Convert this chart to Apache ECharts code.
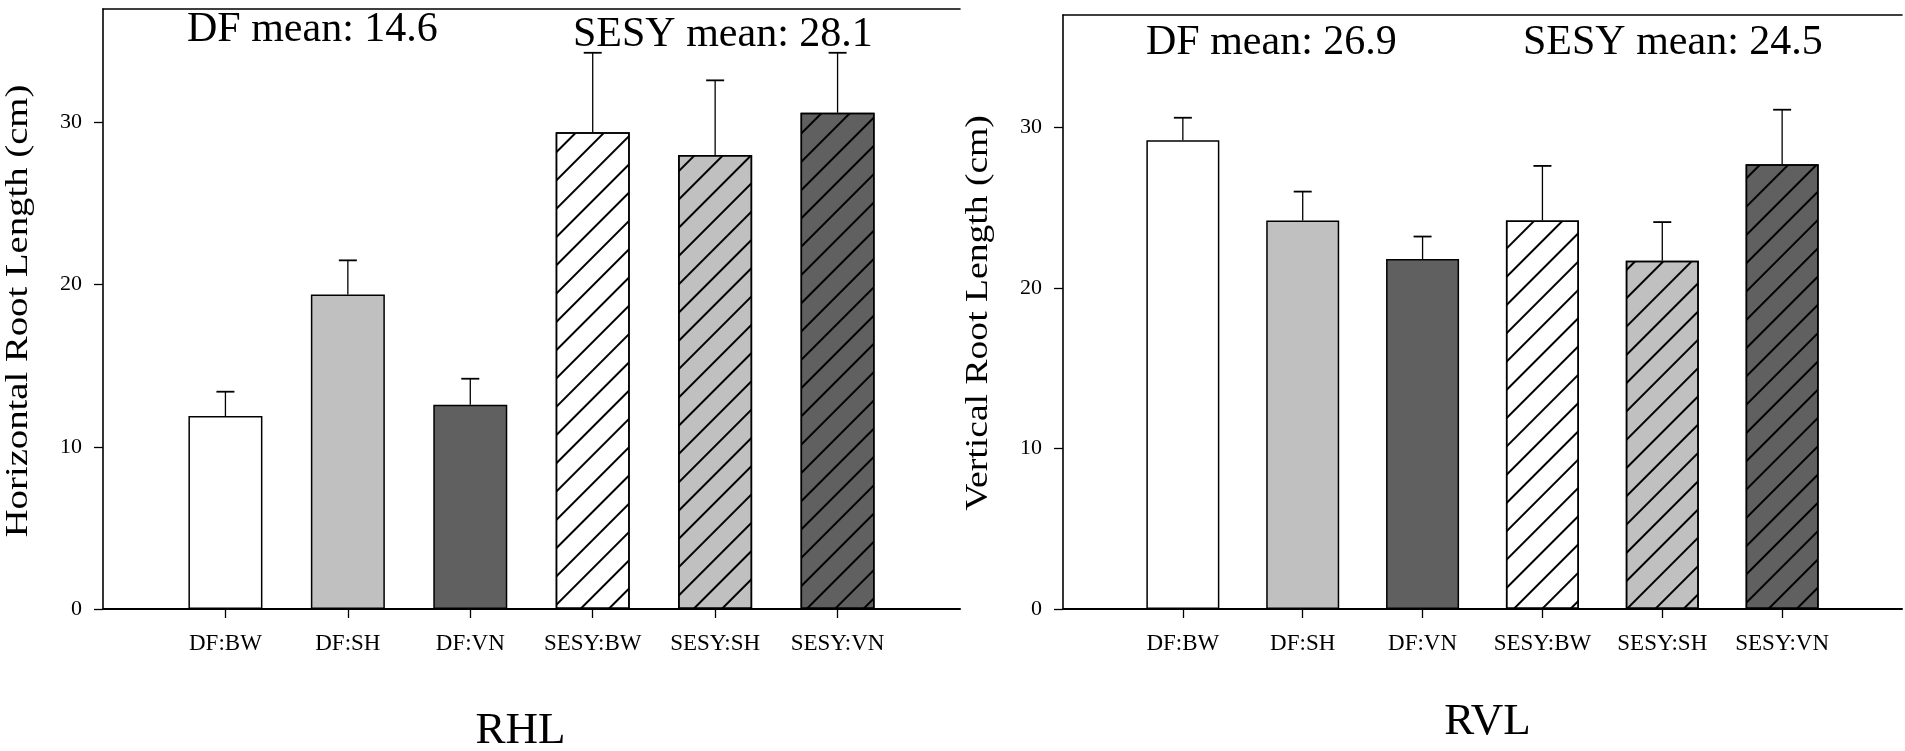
<!DOCTYPE html>
<html><head><meta charset="utf-8">
<script src="https://cdn.jsdelivr.net/npm/echarts@6/dist/echarts.min.js"></script>
<style>html,body{margin:0;padding:0;background:#fff}#c{width:1905px;height:751px}</style>
</head><body><div id="c"></div>
<script>
// ---- data ----
const categories = ['DF:BW', 'DF:SH', 'DF:VN', 'SESY:BW', 'SESY:SH', 'SESY:VN'];
const rhlMeans = [11.9, 19.4, 12.6, 29.4, 28.0, 30.6];
const rhlErr   = [1.5, 2.1, 1.6, 4.9, 4.6, 3.7];
const rvlMeans = [29.2, 24.2, 21.8, 24.2, 21.7, 27.7];
const rvlErr   = [1.4, 1.8, 1.4, 3.4, 2.4, 3.4];
const yTicks = [0, 10, 20, 30];
const rhlAnnot = ['DF mean: 14.6', 'SESY mean: 28.1'];
const rvlAnnot = ['DF mean: 26.9', 'SESY mean: 24.5'];
const rhlYTitle = 'Horizontal Root Length (cm)';
const rvlYTitle = 'Vertical Root Length (cm)';
const panelTitles = ['RHL', 'RVL'];

// ---- styles ----
const FONT = '"Liberation Serif","Times New Roman",serif';
const fills = ['#ffffff', '#c0c0c0', '#606060', '#ffffff', '#c0c0c0', '#606060'];
const hatched = [false, false, false, true, true, true];
const hatch = {
  symbol: 'rect', symbolSize: 1, color: '#000', backgroundColor: null,
  dashArrayX: [1, 0], dashArrayY: [1.3, 17.6], rotation: -Math.PI / 4
};
const padded = [''].concat(categories, ['']);

function barData(vals) {
  const items = vals.map((v, i) => {
    const st = { color: fills[i], borderColor: '#000', borderWidth: 1.5 };
    if (hatched[i]) st.decal = hatch;
    return { value: v, itemStyle: st };
  });
  return ['-'].concat(items, ['-']);
}
function errData(vals, errs) {
  return vals.map((v, i) => [i + 1, v, errs[i]]);
}
function renderErr(params, api) {
  const x = api.value(0), m = api.value(1), e = api.value(2);
  const p0 = api.coord([x, m]), p1 = api.coord([x, m + e]);
  const hw = 9;
  return { type: 'group', children: [
    { type: 'line', shape: { x1: p0[0], y1: p0[1], x2: p1[0], y2: p1[1] }, style: { stroke: '#000', lineWidth: 1.3 } },
    { type: 'line', shape: { x1: p1[0] - hw, y1: p1[1], x2: p1[0] + hw, y2: p1[1] }, style: { stroke: '#000', lineWidth: 1.8 } }
  ] };
}
function xBottom(g) {
  return {
    type: 'category', gridIndex: g, data: padded, boundaryGap: false, position: 'bottom',
    axisLine: { show: true, lineStyle: { color: '#000', width: 2 } },
    axisTick: { show: true, length: 9, interval: (i) => i > 0 && i < padded.length - 1, lineStyle: { color: '#000', width: 1.3 } },
    axisLabel: { interval: 0, margin: 23, color: '#000', fontSize: 23, fontFamily: FONT },
    splitLine: { show: false }
  };
}
function xTop(g) {
  return {
    type: 'category', gridIndex: g, data: padded, boundaryGap: false, position: 'top',
    axisLine: { show: true, lineStyle: { color: '#000', width: 1.6 } },
    axisTick: { show: false }, axisLabel: { show: false }, splitLine: { show: false }
  };
}
function yAx(g) {
  return {
    type: 'value', gridIndex: g, min: 0, max: 37, interval: 10,
    axisLine: { show: true, lineStyle: { color: '#000', width: 1.6 } },
    axisTick: { show: true, length: 9, customValues: yTicks, lineStyle: { color: '#000', width: 1.3 } },
    axisLabel: { customValues: yTicks, margin: 21, color: '#000', fontSize: 22, fontFamily: FONT },
    splitLine: { show: false }
  };
}
function txt(text, x, y, size, align, extra) {
  return Object.assign({
    type: 'text', x: x, y: y, silent: true,
    style: { text: text, fontSize: size, fontFamily: FONT, fill: '#000', align: align, verticalAlign: 'middle' }
  }, extra || {});
}

const chart = echarts.init(document.getElementById('c'), null, { renderer: 'canvas' });
chart.setOption({
  backgroundColor: '#fff',
  animation: false,
  grid: [
    { left: 103, top: 9, width: 857, height: 600 },
    { left: 1063, top: 15, width: 850, height: 594 }
  ],
  xAxis: [xBottom(0), xTop(0), xBottom(1), xTop(1)],
  yAxis: [yAx(0), yAx(1)],
  series: [
    { type: 'bar', xAxisIndex: 0, yAxisIndex: 0, barWidth: 74, data: barData(rhlMeans) },
    { type: 'custom', xAxisIndex: 0, yAxisIndex: 0, renderItem: renderErr, data: errData(rhlMeans, rhlErr), z: 5, encode: { x: 0, y: 1 } },
    { type: 'bar', xAxisIndex: 2, yAxisIndex: 1, barWidth: 73, data: barData(rvlMeans) },
    { type: 'custom', xAxisIndex: 2, yAxisIndex: 1, renderItem: renderErr, data: errData(rvlMeans, rvlErr), z: 5, encode: { x: 0, y: 1 } }
  ],
  graphic: [
    txt(rhlAnnot[0], 187, 30, 42, 'left'),
    txt(rhlAnnot[1], 573, 35, 42, 'left'),
    txt(rvlAnnot[0], 1146, 42.5, 42, 'left'),
    txt(rvlAnnot[1], 1523, 42.5, 42, 'left'),
    txt(panelTitles[0], 520.5, 731.5, 45, 'center'),
    txt(panelTitles[1], 1487.5, 722, 45, 'center'),
    txt(rhlYTitle, 19, 311, 31, 'center', { rotation: Math.PI / 2, scaleX: 1.249 }),
    txt(rvlYTitle, 979, 313, 31, 'center', { rotation: Math.PI / 2, scaleX: 1.213 })
  ]
});
</script>
</body></html>
